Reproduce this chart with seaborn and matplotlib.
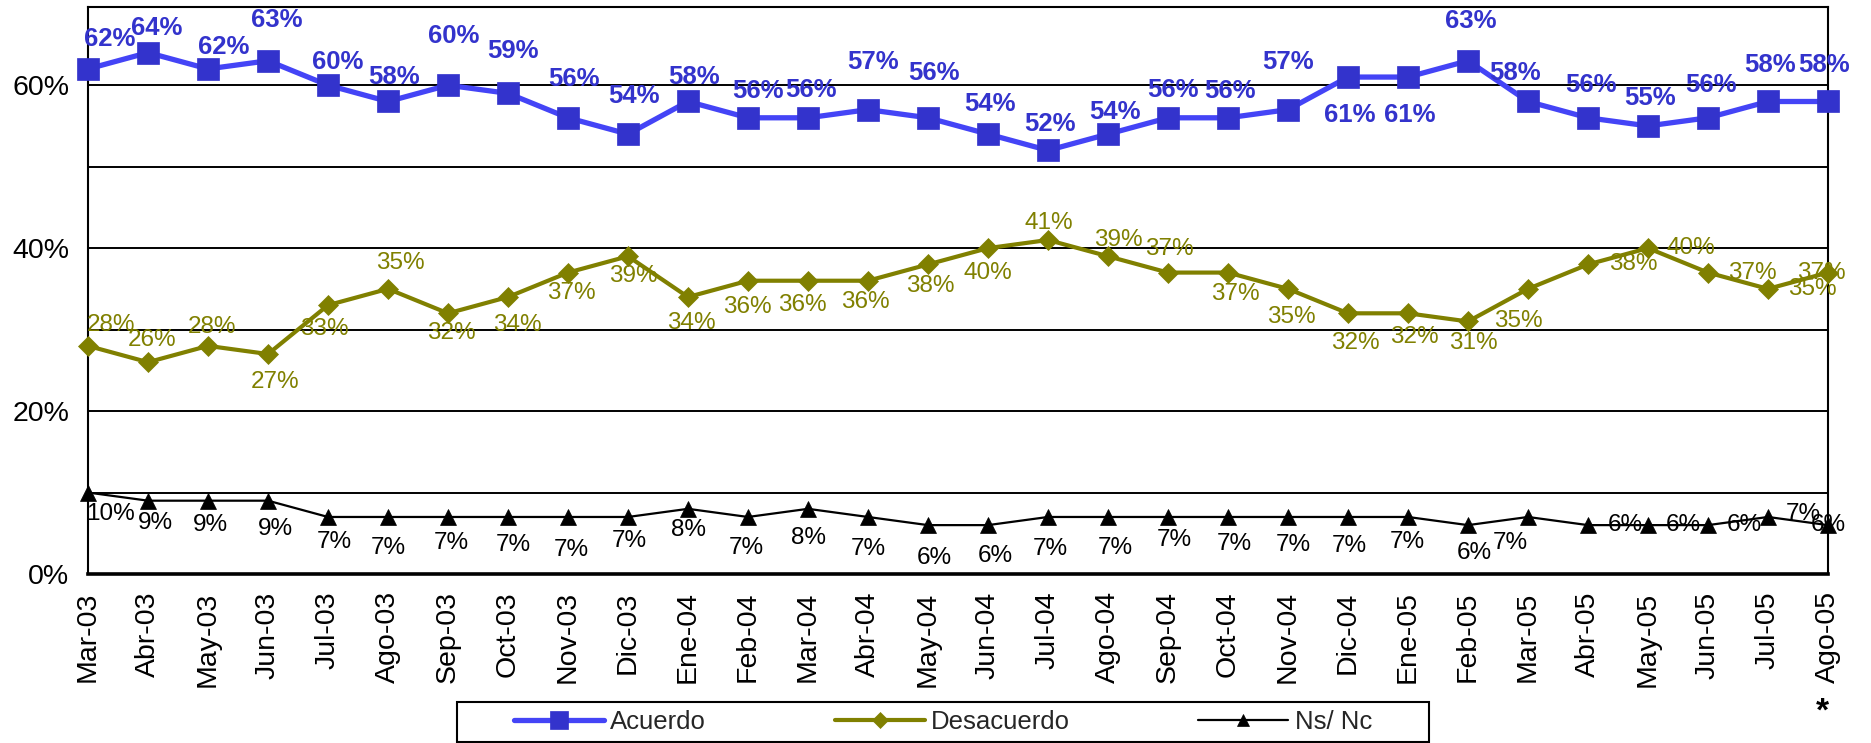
import matplotlib
matplotlib.use("Agg")
import matplotlib.pyplot as plt
from matplotlib.patches import Rectangle
from matplotlib.ticker import FixedLocator, FuncFormatter
import numpy as np
import pandas as pd
import seaborn as sns

# ---- data -------------------------------------------------------------
months = ["Mar-03", "Abr-03", "May-03", "Jun-03", "Jul-03", "Ago-03", "Sep-03",
          "Oct-03", "Nov-03", "Dic-03", "Ene-04", "Feb-04", "Mar-04", "Abr-04",
          "May-04", "Jun-04", "Jul-04", "Ago-04", "Sep-04", "Oct-04", "Nov-04",
          "Dic-04", "Ene-05", "Feb-05", "Mar-05", "Abr-05", "May-05", "Jun-05",
          "Jul-05", "Ago-05"]
acuerdo = [62, 64, 62, 63, 60, 58, 60, 59, 56, 54, 58, 56, 56, 57, 56, 54, 52,
           54, 56, 56, 57, 61, 61, 63, 58, 56, 55, 56, 58, 58]
desacuerdo = [28, 26, 28, 27, 33, 35, 32, 34, 37, 39, 34, 36, 36, 36, 38, 40,
              41, 39, 37, 37, 35, 32, 32, 31, 35, 38, 40, 37, 35, 37]
ns_nc = [10, 9, 9, 9, 7, 7, 7, 7, 7, 7, 8, 7, 8, 7, 6, 6, 7, 7, 7, 7, 7, 7, 7,
         6, 7, 6, 6, 6, 7, 6]
series_names = ["Acuerdo", "Desacuerdo", "Ns/ Nc"]
y_ticks = [0, 20, 40, 60]
y_minor = [10, 30, 50]

# ---- value-label placement (pixel offsets from each point, +y is up) ---
acuerdo_off = [(22, 30), (9, 25), (16, 22), (9, 41), (10, 23), (6, 24), (6, 49),
               (5, 42), (6, 39), (6, 38), (6, 24), (10, 27), (3, 28), (5, 48),
               (6, 45), (2, 30), (2, 26), (7, 22), (5, 28), (2, 27), (0, 48),
               (2, -38), (2, -38), (3, 40), (-13, 28), (3, 33), (2, 28),
               (3, 33), (2, 36), (-4, 36)]
desacuerdo_off = [(23, 21), (4, 22), (4, 19), (7, -28), (-4, -24), (12, 26),
                  (3, -20), (9, -28), (3, -20), (5, -20), (3, -26), (-1, -26),
                  (-6, -24), (-3, -21), (2, -22), (0, -25), (1, 17), (10, 16),
                  (1, 24), (7, -21), (3, -28), (7, -30), (6, -24), (5, -22),
                  (-10, -32), (45, 0), (43, 0), (44, 0), (44, 0), (-7, 0)]
ns_off = [(22, -21), (7, -22), (2, -24), (7, -28), (6, -25), (0, -31), (3, -26),
          (5, -28), (3, -33), (1, -24), (1, -21), (-2, -31), (1, -29), (0, -32),
          (6, -33), (7, -31), (2, -32), (7, -31), (6, -23), (6, -27), (5, -28),
          (1, -29), (-1, -25), (6, -28), (-18, -26), (37, 0), (35, 0), (36, 0),
          (35, 3), (0, 0)]

BLUE_LINE = "#4444F6"
BLUE_MARK = "#3333CC"
OLIVE = "#808000"
BLACK = "#000000"

sns.set_style("white")
plt.rcParams["font.family"] = ["Liberation Sans", "DejaVu Sans"]

W, H = 1871, 743
fig = plt.figure(figsize=(W / 100, H / 100), dpi=100)
fig.patch.set_facecolor("white")
ax_left, ax_right, ax_top, ax_bottom = 88, 1828, 7, 574
ax = fig.add_axes([ax_left / W, 1 - ax_bottom / H,
                   (ax_right - ax_left) / W, (ax_bottom - ax_top) / H])

x = np.arange(len(months))
df = pd.DataFrame({"x": np.tile(x, 3),
                   "valor": acuerdo + desacuerdo + ns_nc,
                   "serie": np.repeat(series_names, len(months))})

# ---- lines --------------------------------------------------------------
styles = {
    "Acuerdo": dict(color=BLUE_LINE, lw=3.8, marker="s", ms=16.5,
                    mfc=BLUE_MARK, mec=BLUE_MARK, z=4),
    "Desacuerdo": dict(color=OLIVE, lw=3.0, marker="D", ms=10.5,
                       mfc=OLIVE, mec=OLIVE, z=3),
    "Ns/ Nc": dict(color=BLACK, lw=1.6, marker="^", ms=11,
                   mfc=BLACK, mec=BLACK, z=3),
}
for name in series_names:
    st = styles[name]
    sub = df[df["serie"] == name]
    sns.lineplot(data=sub, x="x", y="valor", ax=ax, color=st["color"],
                 linewidth=st["lw"], marker=st["marker"], markersize=st["ms"],
                 markerfacecolor=st["mfc"], markeredgecolor=st["mec"],
                 markeredgewidth=0.5, label=name, zorder=st["z"],
                 clip_on=False, errorbar=None)

handles, labels = ax.get_legend_handles_labels()
if ax.get_legend() is not None:
    ax.get_legend().remove()

# ---- value labels -------------------------------------------------------
def put_labels(vals, offs, color, weight, size):
    for xi, v, (dx, dy) in zip(x, vals, offs):
        ax.annotate(f"{v}%", (xi, v), xytext=(dx, dy),
                    textcoords="offset pixels", ha="center", va="center",
                    color=color, fontsize=size, fontweight=weight,
                    zorder=6, annotation_clip=False)

put_labels(ns_nc, ns_off, BLACK, "normal", 17.5)
put_labels(desacuerdo, desacuerdo_off, OLIVE, "normal", 17.5)
put_labels(acuerdo, acuerdo_off, BLUE_MARK, "bold", 18.5)

# ---- axes ---------------------------------------------------------------
ax.set_xlim(0, len(months) - 1)
ax.set_ylim(0, 69.6)
ax.set_xticks(x)
ax.set_xticklabels(months, rotation=90)
ax.set_yticks(y_ticks)
ax.yaxis.set_minor_locator(FixedLocator(y_minor))
ax.yaxis.set_major_formatter(FuncFormatter(lambda v, _: f"{v:.0f}%"))
ax.set_xlabel("")
ax.set_ylabel("")

ax.grid(False)
ax.yaxis.grid(True, which="both", color="black", linewidth=1.4)
ax.set_axisbelow(True)

ax.tick_params(axis="x", direction="out", length=6.5, width=1.4, pad=6,
               labelsize=20.5, colors="black")
ax.tick_params(axis="y", which="major", direction="out", length=6, width=1.4,
               pad=7.5, labelsize=20.5, colors="black")
ax.tick_params(axis="y", which="minor", length=0)

for side in ["top", "right", "left"]:
    ax.spines[side].set_visible(True)
    ax.spines[side].set_color("black")
    ax.spines[side].set_linewidth(1.5)
ax.spines["bottom"].set_color("black")
ax.spines["bottom"].set_linewidth(2.6)

# ---- legend -------------------------------------------------------------
leg_l, leg_r, leg_t, leg_b = 457, 1429, 702, 742
fig.patches.append(Rectangle((leg_l / W, 1 - leg_b / H),
                             (leg_r - leg_l) / W, (leg_b - leg_t) / H,
                             transform=fig.transFigure, facecolor="white",
                             edgecolor="black", linewidth=1.5, zorder=1))
leg = fig.legend(handles, labels, loc="center",
                 bbox_to_anchor=((leg_l + leg_r) / 2 / W,
                                 1 - (leg_t + leg_b) / 2 / H),
                 ncol=3, frameon=False, fontsize=18.5, handlelength=3.5,
                 handletextpad=0.25, columnspacing=5.0, borderpad=0,
                 markerscale=0.75)
leg.set_zorder(2)

# footnote marker under the last month
fig.text(1822 / W, 1 - 712 / H, "*", ha="center", va="center",
         fontsize=24, fontweight="bold", color="black")

fig.savefig("out.png", dpi=100, facecolor="white")
